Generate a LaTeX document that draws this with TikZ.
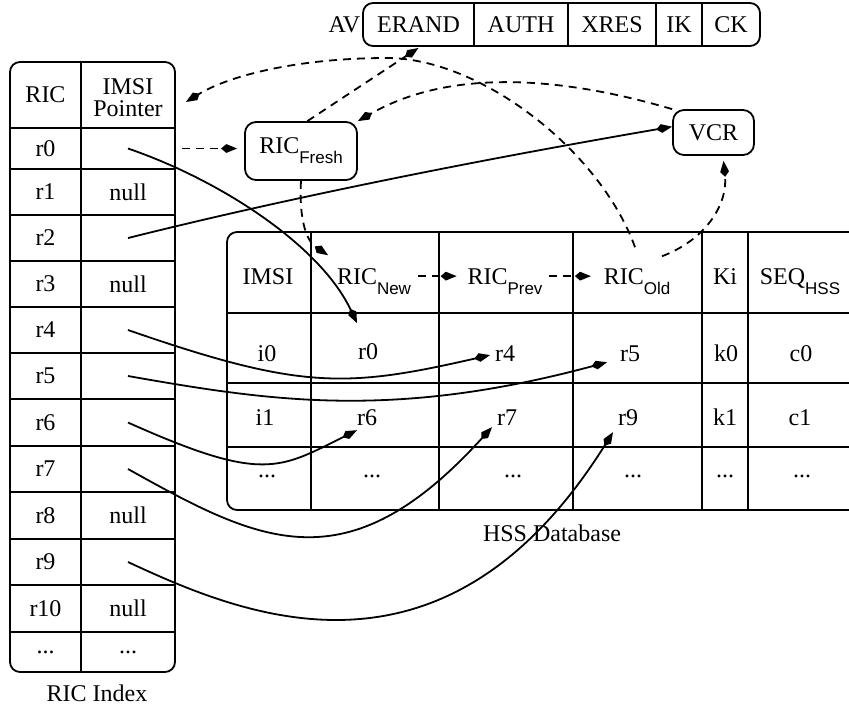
\documentclass[tikz,border=0pt]{standalone}
\usepackage{fontspec}
\setmainfont{Liberation Serif}
\setsansfont{Liberation Sans}
\usetikzlibrary{arrows.meta}
\newcommand{\sbs}[1]{\raisebox{-5pt}{\fontsize{8.5}{10}\selectfont\sffamily #1}}
\newcommand{\mkcell}[6]{\node[minimum width={(#4-#2)*0.5pt},minimum height={(#5-#3)*0.5pt}] (#1) at ({(#2+#4)/2},{(#3+#5)/2}) {#6};}
\tikzset{
  lbl/.style={font=\fontsize{12}{11}\selectfont, inner sep=0pt},
  arr/.style={-{Kite[length=8pt,width=4.4pt,inset=2.6pt]}},
  dsh/.style={dash pattern=on 4pt off 3pt},
  boxnode/.style={draw, rounded corners=5.5pt, inner sep=0pt},
}
\begin{document}
\begin{tikzpicture}[x=0.5pt,y=-0.5pt,line width=0.9pt,every node/.style={lbl}]
\useasboundingbox (0,0) rectangle (849,719);
\clip (0,0) rectangle (849,719);

% ---------- RIC index ----------
\draw[rounded corners=5pt] (10,62) rectangle (175,672);
\draw (81,62) -- (81,672);
\foreach \yy in {128,169,215,261,307,353,399,446,492,539,585,632} \draw (10,\yy) -- (175,\yy);
\mkcell{hRIC}{10}{62}{81}{128}{RIC}
\node[align=center] (hPtr) at (128,98) {IMSI\\Pointer};
\mkcell{rl0}{10}{128}{81}{169}{r0}   \mkcell{p0}{81}{128}{175}{169}{}
\mkcell{rl1}{10}{169}{81}{215}{r1}   \mkcell{p1}{81}{169}{175}{215}{null}
\mkcell{rl2}{10}{215}{81}{261}{r2}   \mkcell{p2}{81}{215}{175}{261}{}
\mkcell{rl3}{10}{261}{81}{307}{r3}   \mkcell{p3}{81}{261}{175}{307}{null}
\mkcell{rl4}{10}{307}{81}{353}{r4}   \mkcell{p4}{81}{307}{175}{353}{}
\mkcell{rl5}{10}{353}{81}{399}{r5}   \mkcell{p5}{81}{353}{175}{399}{}
\mkcell{rl6}{10}{399}{81}{446}{r6}   \mkcell{p6}{81}{399}{175}{446}{}
\mkcell{rl7}{10}{446}{81}{492}{r7}   \mkcell{p7}{81}{446}{175}{492}{}
\mkcell{rl8}{10}{492}{81}{539}{r8}   \mkcell{p8}{81}{492}{175}{539}{null}
\mkcell{rl9}{10}{539}{81}{585}{r9}   \mkcell{p9}{81}{539}{175}{585}{}
\mkcell{rl10}{10}{585}{81}{632}{r10} \mkcell{p10}{81}{585}{175}{632}{null}
\mkcell{rl11}{10}{632}{81}{672}{...} \mkcell{p11}{81}{632}{175}{672}{...}
\node (ricidx) at (97,693) {RIC Index};

% ---------- AV ----------
\node[anchor=east] (avl) at (361,25) {AV};
\draw[rounded corners=5pt] (363,3) rectangle (760,46);
\foreach \xx in {474,568,656,702} \draw (\xx,3) -- (\xx,46);
\mkcell{av1}{363}{3}{474}{47}{ERAND}
\mkcell{av2}{474}{3}{568}{47}{AUTH}
\mkcell{av3}{568}{3}{656}{47}{XRES}
\mkcell{av4}{656}{3}{702}{47}{IK}
\mkcell{av5}{702}{3}{760}{47}{CK}

% ---------- Fresh / VCR ----------
\node[boxnode, minimum width=56pt, minimum height=29pt] (Fresh) at (301,151) {RIC\sbs{Fresh}};
\node[boxnode, minimum width=40.5pt, minimum height=22.5pt] (VCR) at (713.5,132.5) {VCR};

% ---------- HSS database ----------
\draw[rounded corners=5pt] (870,232) -- (227,232) -- (227,510) -- (870,510);
\foreach \xx in {311,439,573,702,748} \draw (\xx,232) -- (\xx,510);
\foreach \yy in {313,383,447} \draw (227,\yy) -- (870,\yy);
\node[anchor=base] (tIMSI) at (268,284) {IMSI};
\node[anchor=base] (tNew)  at (374,284) {RIC\sbs{New}};
\node[anchor=base] (tPrev) at (505,284) {RIC\sbs{Prev}};
\node[anchor=base] (tOld)  at (637,284) {RIC\sbs{Old}};
\node[anchor=base] (tKi)   at (725,284) {Ki};
\node[anchor=base] (tSEQ)  at (800,284) {SEQ\sbs{HSS}};

\node[anchor=base] (hi0) at (267,361) {i0};
\node[anchor=base] (hr0) at (368,359) {r0};
\node[anchor=base] (hr4) at (505,361) {r4};
\node[anchor=base] (hr5) at (630,361) {r5};
\node[anchor=base] (hk0) at (726,361) {k0};
\node[anchor=base] (hc0) at (801,361) {c0};

\node[anchor=base] (hi1) at (265,425) {i1};
\node[anchor=base] (hr6) at (367,425) {r6};
\node[anchor=base] (hr7) at (507,425) {r7};
\node[anchor=base] (hr9) at (628,425) {r9};
\node[anchor=base] (hk1) at (725,425) {k1};
\node[anchor=base] (hc1) at (800,425) {c1};

\node[anchor=base] (hd1) at (267,477) {...};
\node[anchor=base] (hd2) at (372,477) {...};
\node[anchor=base] (hd3) at (513,477) {...};
\node[anchor=base] (hd4) at (633,477) {...};
\node[anchor=base] (hd5) at (725,477) {...};
\node[anchor=base] (hd6) at (802,477) {...};
\node (hssdb) at (552,533) {HSS Database};

% ---------- solid pointers ----------
\draw[arr] (p0.center) .. controls (220,180) and (320,245) .. ([shift={(-11,-28)}]hr0.center);
\draw[arr] (p2.center) .. controls (300,195) and (490,158) .. (VCR.172);
\draw[arr] (p4.center) .. controls (301,390) and (346,388) .. ([shift={(-15,2)}]hr4.center);
\draw[arr] (p5.center) .. controls (270,401) and (392,420) .. ([shift={(-23,9)}]hr5.center);
\draw[arr] (p6.center) .. controls (263,483) and (279,469) .. ([shift={(-10,13)}]hr6.center);
\draw[arr] (p7.center) .. controls (259,542) and (346,588) .. ([shift={(-15,10)}]hr7.center);
\draw[arr] (p9.center) .. controls (242,615) and (444,702) .. ([shift={(-15,15)}]hr9.center);

% ---------- dashed links ----------
\draw[arr,dsh,shorten <=3pt,shorten >=3.5pt] (p0.east) -- (p0.east -| Fresh.west);
\draw[arr,dsh] (Fresh.78) -- (av1.south);
\draw[arr,dsh] ([shift={(-2,-20)}]tOld.north) .. controls (600,150) and (480,58) .. (387,58)
   .. controls (300,58) and (230,75) .. ([shift={(10,4)}]hPtr.east -| p0.east);
\draw[arr,dsh] (VCR.north west) .. controls (573,80) and (456,65) .. (Fresh.north east);
\draw[arr,dsh] (Fresh.south) .. controls (299,215) and (305,240) .. ([shift={(-8,-12)}]tNew.north west);
\draw[arr,dsh] ([shift={(6,-5)}]tNew.east) -- ([shift={(-10,-5)}]tPrev.west);
\draw[arr,dsh] ([shift={(6,-5)}]tPrev.east) -- ([shift={(-12,-5)}]tOld.west);
\draw[arr,dsh] ([shift={(25,-11)}]tOld.north) .. controls (705,240) and (728,205) .. ([shift={(10,5)}]VCR.south);
\end{tikzpicture}
\end{document}
